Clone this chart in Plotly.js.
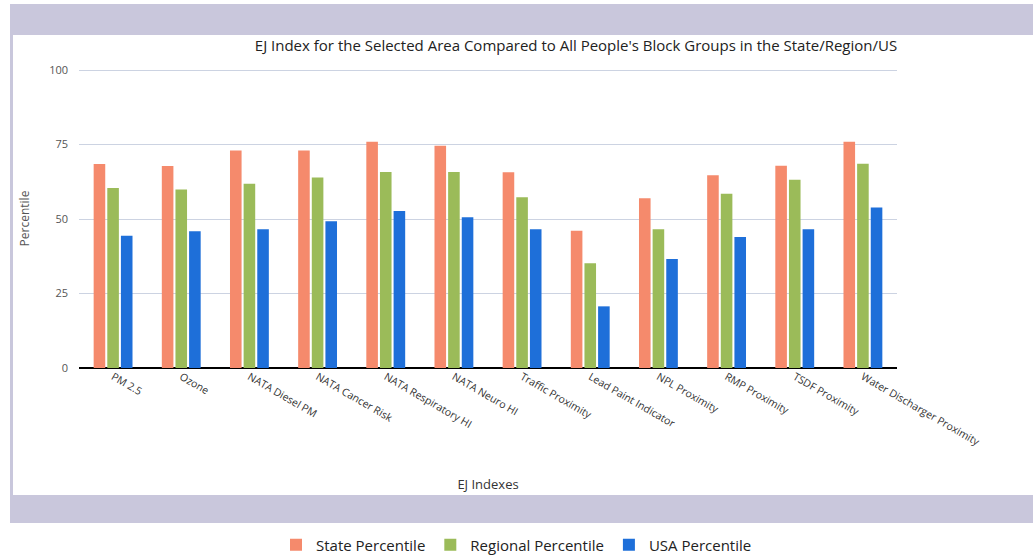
<!DOCTYPE html>
<html>
<head>
<meta charset="utf-8">
<script src="https://cdn.plot.ly/plotly-3.0.1.min.js"></script>
<style>
  html, body { margin: 0; padding: 0; background: #ffffff; }
  #chart { width: 1033px; height: 560px; }
</style>
</head>
<body>
<div id="chart"></div>
<script>
// ---- Data ----
const categories = [
  "PM 2.5",
  "Ozone",
  "NATA Diesel PM",
  "NATA Cancer Risk",
  "NATA Respiratory HI",
  "NATA Neuro HI",
  "Traffic Proximity",
  "Lead Paint Indicator",
  "NPL Proximity",
  "RMP Proximity",
  "TSDF Proximity",
  "Water Discharger Proximity"
];
const statePercentile    = [68.5, 67.8, 73.0, 73.0, 76, 74.6, 65.7, 46.1, 57.0, 64.7, 67.9, 76];
const regionalPercentile = [60.4, 59.9, 61.9, 64.0, 65.8, 65.8, 57.3, 35.2, 46.6, 58.5, 63.2, 68.6];
const usaPercentile      = [44.4, 45.9, 46.6, 49.3, 52.7, 50.6, 46.6, 20.7, 36.6, 44.0, 46.6, 53.9];
const yTickValues = [0, 25, 50, 75, 100];
const yTickLabels = ["0", "25", "50", "75", "100"];

const seriesNames  = ["State Percentile", "Regional Percentile", "USA Percentile"];
const seriesColors = ["#F58A6C", "#9BBB59", "#1E6FD9"];
const seriesValues = [statePercentile, regionalPercentile, usaPercentile];

const traces = seriesValues.map((vals, i) => ({
  type: "bar",
  name: seriesNames[i],
  x: categories,
  y: vals,
  marker: { color: seriesColors[i] },
  hoverinfo: "x+y+name"
}));

// Plot area in pixels: x 79..897, y 69..368
const W = 1033, H = 560;
const L = 79, R = 897, T = 69, B = 368;
const pw = R - L, ph = B - T;
const px = v => (v - L) / pw;
const py = v => (B - v) / ph;
const frameColor = "#C9C7DC";

const layout = {
  width: W,
  height: H,
  paper_bgcolor: "#ffffff",
  plot_bgcolor: "#ffffff",
  font: { family: "Open Sans, DejaVu Sans, sans-serif", color: "#333333" },
  margin: { l: L, r: W - R, t: T, b: H - B, pad: 0 },
  title: {
    text: "EJ Index for the Selected Area Compared to All People's Block Groups in the State/Region/US",
    font: { size: 15, color: "#222222" },
    x: 576 / W, xanchor: "center", xref: "container",
    y: 1 - 46 / H, yanchor: "middle", yref: "container"
  },
  barmode: "group",
  bargap: 0.40,
  bargroupgap: 0.15,
  showlegend: true,
  legend: {
    orientation: "h",
    xref: "container", yref: "container",
    x: 0.5, xanchor: "center",
    y: 1 - 545 / H, yanchor: "middle",
    font: { size: 15, color: "#222222" },
    traceorder: "normal"
  },
  xaxis: {
    type: "category",
    tickangle: 30,
    tickfont: { size: 10.5, color: "#333333" },
    showgrid: false,
    showline: false,
    ticks: "",
    automargin: false,
    title: { text: "EJ Indexes", font: { size: 13, color: "#333333" }, standoff: 32 }
  },
  yaxis: {
    range: [0, 100.4],
    tickvals: yTickValues,
    ticktext: yTickLabels,
    tickfont: { size: 11, color: "#555555" },
    ticks: "",
    ticklabelstandoff: 10,
    showgrid: true,
    gridcolor: "#CCD3E2",
    gridwidth: 1,
    zeroline: true,
    zerolinecolor: "#000000",
    zerolinewidth: 2,
    showline: false,
    automargin: false,
    title: { text: "Percentile", font: { size: 12, color: "#555555" }, standoff: 16 }
  },
  shapes: [
    // top band of the frame
    { type: "rect", xref: "paper", yref: "paper", layer: "below",
      x0: px(10), x1: px(1033), y0: py(35), y1: py(4),
      fillcolor: frameColor, line: { width: 0 } },
    // left strip of the frame
    { type: "rect", xref: "paper", yref: "paper", layer: "below",
      x0: px(10), x1: px(13), y0: py(495), y1: py(35),
      fillcolor: frameColor, line: { width: 0 } },
    // bottom band of the frame
    { type: "rect", xref: "paper", yref: "paper", layer: "below",
      x0: px(10), x1: px(1033), y0: py(523), y1: py(495),
      fillcolor: frameColor, line: { width: 0 } }
  ]
};

Plotly.newPlot("chart", traces, layout, { staticPlot: true, displayModeBar: false });
</script>
</body>
</html>
